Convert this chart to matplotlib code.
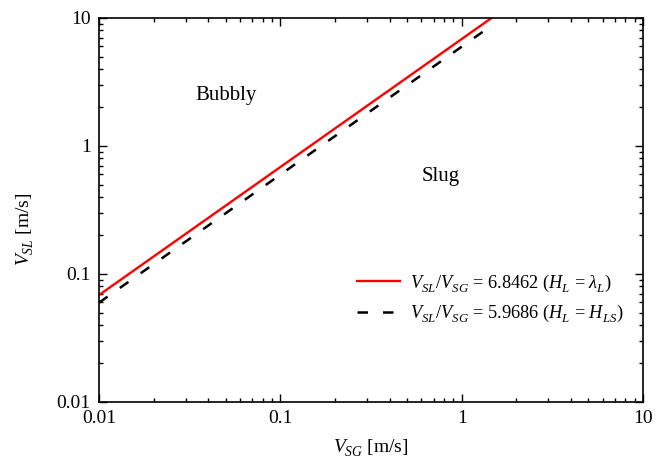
import numpy as np
import matplotlib
matplotlib.use("Agg")
import matplotlib.pyplot as plt
import matplotlib._mathtext as mt
from matplotlib.ticker import LogLocator, FixedLocator, FixedFormatter

plt.rcParams['font.family'] = ['Liberation Serif', 'DejaVu Serif']
plt.rcParams['mathtext.fontset'] = 'custom'
plt.rcParams['mathtext.rm'] = 'Liberation Serif'
plt.rcParams['mathtext.it'] = 'Liberation Serif:italic'
plt.rcParams['mathtext.bf'] = 'Liberation Serif:bold'
# drop subscripts a bit lower, like the original
mt.FontConstantsBase.sub1 = 0.45
mt.FontConstantsBase.sub2 = 0.6

# boundary ratios V_SL/V_SG
ratio_lambda = 6.8462
ratio_hls = 5.9686
vsg_min = 0.01
vsg_max = 10 / ratio_lambda

ticks = [0.01, 0.1, 1, 10]
tick_labels = ["0.01", "0.1", "1", "10"]

vsg = np.logspace(np.log10(vsg_min), np.log10(vsg_max), 50)

fig = plt.figure(figsize=(6.56, 4.68), dpi=100)
ax = fig.add_axes([99/656, 1 - 402/468, (643-99)/656, (402-18)/468])

ax.plot(vsg, ratio_lambda * vsg, color='red', lw=1.7,
        label=r'$V_{SL}/V_{SG}$ = 6.8462 ($H_L$ = $\lambda_L$)')
ax.plot(vsg, ratio_hls * vsg, color='black', lw=1.8, dashes=(4.2, 6.0),
        label=r'$V_{SL}/V_{SG}$ = 5.9686 ($H_L$ = $H_{LS}$)')

ax.set_xscale('log')
ax.set_yscale('log')
ax.set_xlim(0.01, 10)
ax.set_ylim(0.01, 10)

for axis in (ax.xaxis, ax.yaxis):
    axis.set_major_locator(FixedLocator(ticks))
    axis.set_major_formatter(FixedFormatter(tick_labels))
    axis.set_minor_locator(LogLocator(base=10, subs=np.arange(2, 10)))

ax.tick_params(which='both', direction='in', top=True, right=True, labelsize=14, width=1.0)
ax.tick_params(which='major', length=6, pad=6)
ax.tick_params(which='minor', length=3)
for s in ax.spines.values():
    s.set_linewidth(1.2)

ax.text(0.0502, 2.49, 'Bubbly', fontsize=15, ha='center', va='center')
ax.text(0.77, 0.58, 'Slug', fontsize=15, ha='center', va='center')

ax.set_xlabel(r'$V_{SG}$ [m/s]', fontsize=14, labelpad=8)
ax.set_ylabel(r'$V_{SL}$ [m/s]', fontsize=14)
ax.yaxis.set_label_coords(-0.115, 0.45)

ax.legend(loc='lower right', bbox_to_anchor=(0.994, 0.16), frameon=False, fontsize=13.2,
          handlelength=2.35, handletextpad=0.5, labelspacing=0.5)

fig.savefig('out.png', dpi=100)
